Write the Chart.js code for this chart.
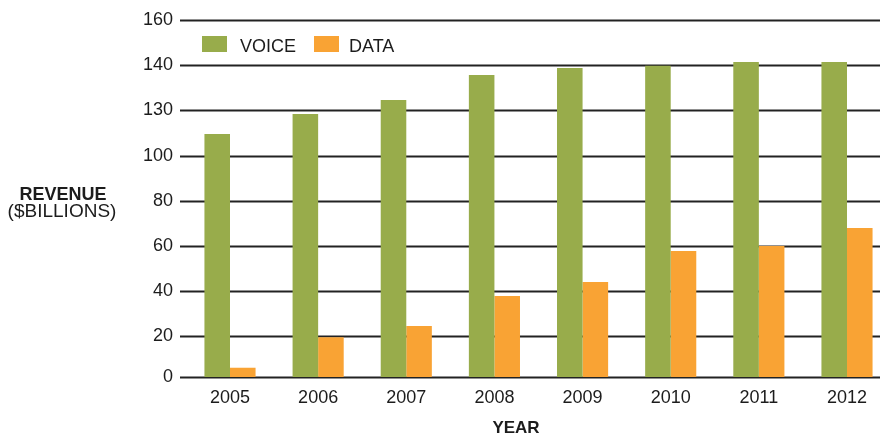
<!DOCTYPE html>
<html>
<head>
<meta charset="utf-8">
<title>Revenue by year</title>
<script src="https://cdn.jsdelivr.net/npm/chart.js@4"></script>
<style>
    html, body { margin: 0; padding: 0; background: #fff; }
    #wrap { width: 880px; height: 433px; }
</style>
</head>
<body>
<div id="wrap"><canvas id="revenueChart"></canvas></div>
<script>
// Dados
const years = ['2005', '2006', '2007', '2008', '2009', '2010', '2011', '2012'];
const voice = [109.6, 118.4, 124.6, 135.7, 138.8, 139.8, 141.4, 141.4];
const data = [6.1, 19.6, 24.6, 37.8, 44.0, 57.8, 60.0, 67.9];
// posições dos ticks e os rótulos impressos no original (sim, "130" no lugar de 120)
const yTickPos = [2, 20, 40, 60, 80, 100, 120, 140, 160];
const yTickLabels = ['0', '20', '40', '60', '80', '100', '130', '140', '160'];

const green = '#98ac4b';
const orange = '#f9a334';
const ink = '#1c1c1c';

// linhas horizontais, atrás das barras, de x=180 até a borda direita
const gridPlugin = {
    id: 'gridLines',
    beforeDatasetsDraw(chart) {
        const { ctx, scales } = chart;
        ctx.save();
        ctx.strokeStyle = '#222';
        ctx.lineWidth = 2;
        scales.y.ticks.forEach(t => {
            const y = Math.round(scales.y.getPixelForValue(t.value)) + 0.5;
            ctx.beginPath();
            ctx.moveTo(180, y);
            ctx.lineTo(chart.width, y);
            ctx.stroke();
        });
        ctx.restore();
    }
};

// legenda e títulos desenhados à mão
const textPlugin = {
    id: 'texts',
    afterDraw(chart) {
        const { ctx } = chart;
        ctx.save();
        ctx.fillStyle = ink;
        ctx.textBaseline = 'alphabetic';

        // legenda
        const boxX = [202, 314];
        const textX = [240, 349];
        chart.data.datasets.forEach((ds, i) => {
            ctx.fillStyle = ds.backgroundColor;
            ctx.fillRect(boxX[i], 36, 25, 16);
            ctx.fillStyle = ink;
            ctx.font = '18px "Liberation Sans", Arial, sans-serif';
            ctx.textAlign = 'left';
            ctx.fillText(ds.label, textX[i], 52);
        });

        // título do eixo Y
        ctx.textAlign = 'center';
        ctx.font = 'bold 18px "Liberation Sans", Arial, sans-serif';
        ctx.fillText('REVENUE', 63, 200);
        ctx.font = '19px "Liberation Sans", Arial, sans-serif';
        ctx.fillText('($BILLIONS)', 62, 217);

        // título do eixo X
        ctx.font = 'bold 17px "Liberation Sans", Arial, sans-serif';
        ctx.fillText('YEAR', 516, 433);
        ctx.restore();
    }
};

new Chart(document.getElementById('revenueChart'), {
    type: 'bar',
    data: {
        labels: years,
        datasets: [
            { label: 'VOICE', data: voice, backgroundColor: green },
            { label: 'DATA', data: data, backgroundColor: orange }
        ]
    },
    options: {
        responsive: true,
        maintainAspectRatio: false,
        animation: false,
        layout: { padding: { top: 20, right: 33, bottom: 0, left: 0 } },
        datasets: {
            bar: { categoryPercentage: 0.58, barPercentage: 1.0, clip: false, base: yTickPos[0] }
        },
        plugins: {
            legend: { display: false },
            tooltip: { enabled: false }
        },
        scales: {
            x: {
                offset: false,
                grid: { display: false, drawTicks: false },
                border: { display: false },
                ticks: {
                    color: ink,
                    padding: 10,
                    maxRotation: 0,
                    autoSkip: false,
                    font: { size: 18, family: '"Liberation Sans", Arial' }
                },
                afterFit(scale) { scale.height = 56; }
            },
            y: {
                min: 2,
                max: 160,
                grid: { display: false, drawTicks: false },
                border: { display: false },
                afterBuildTicks(scale) {
                    scale.ticks = yTickPos.map(v => ({ value: v }));
                },
                ticks: {
                    color: ink,
                    padding: 57,
                    font: { size: 18, family: '"Liberation Sans", Arial' },
                    callback: (v, i) => yTickLabels[i]
                },
                afterFit(scale) {
                    // o padding grande dos rótulos não deve empurrar a área vertical
                    scale.width = 230;
                    scale.paddingTop = 0;
                    scale.paddingBottom = 0;
                }
            }
        }
    },
    plugins: [gridPlugin, textPlugin]
});
</script>
</body>
</html>
